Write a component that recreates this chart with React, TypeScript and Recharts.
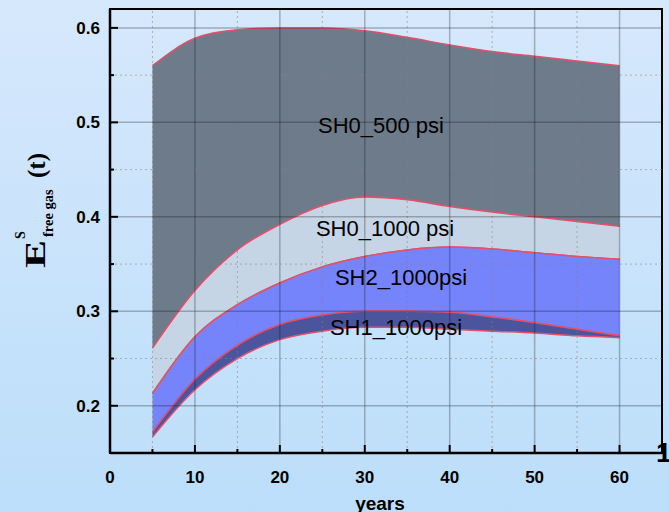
import React from 'react';
import { ComposedChart, Area, XAxis, YAxis, ReferenceLine, ReferenceArea } from 'recharts';

// years on the x axis
const years = [5, 10, 15, 20, 25, 30, 35, 40, 45, 50, 55, 60];

// band boundaries
const sh0_500Top = [0.56, 0.589, 0.598, 0.6, 0.6, 0.597, 0.59, 0.582, 0.575, 0.57, 0.565, 0.56];
const sh0_500Bottom = [0.261, 0.322, 0.365, 0.392, 0.412, 0.421, 0.418, 0.411, 0.405, 0.4, 0.395, 0.39];
const sh2Top = [0.213, 0.273, 0.307, 0.33, 0.347, 0.358, 0.365, 0.368, 0.366, 0.362, 0.358, 0.355];
const sh1Top = [0.172, 0.228, 0.264, 0.286, 0.296, 0.3, 0.3, 0.299, 0.294, 0.288, 0.281, 0.274];
const sh1Bottom = [0.167, 0.217, 0.25, 0.27, 0.279, 0.283, 0.283, 0.281, 0.279, 0.277, 0.274, 0.272];

const xTicks = [0, 5, 10, 15, 20, 25, 30, 35, 40, 45, 50, 55, 60];
const xMajor = [10, 20, 30, 40, 50, 60];
const xMinor = [5, 15, 25, 35, 45, 55];
const yTicks = [0.2, 0.25, 0.3, 0.35, 0.4, 0.45, 0.5, 0.55, 0.6];
const yMajor = [0.2, 0.3, 0.4, 0.5, 0.6];
const yMinor = [0.25, 0.35, 0.45, 0.55];

const data = years.map((year, i) => ({
  year,
  sh0_500: [sh0_500Bottom[i], sh0_500Top[i]],
  sh0_1000: [sh2Top[i], sh0_500Bottom[i]],
  sh2: [sh1Top[i], sh2Top[i]],
  sh1: [sh1Bottom[i], sh1Top[i]],
}));

const W = 669;
const H = 512;
const PLOT_LEFT = 110;
const PLOT_BOTTOM = 453;
const SANS = 'Liberation Sans, Arial, sans-serif';
const SERIF = 'Liberation Serif, Times New Roman, serif';
const RED = '#e2506a';

const XTick = (props: any) => {
  const { x, payload } = props;
  const major = payload.value % 10 === 0;
  return (
    <g>
      <line x1={x} x2={x} y1={PLOT_BOTTOM} y2={PLOT_BOTTOM - (major ? 8 : 4)} stroke="#000" strokeWidth={2} />
      {major && (
        <text x={x} y={483} textAnchor="middle" fontFamily={SANS} fontWeight="bold" fontSize={17} fill="#000">
          {payload.value}
        </text>
      )}
    </g>
  );
};

const YTick = (props: any) => {
  const { y, payload } = props;
  const major = yMajor.some((v) => Math.abs(v - payload.value) < 1e-6);
  return (
    <g>
      <line x1={PLOT_LEFT} x2={PLOT_LEFT + (major ? 8 : 4)} y1={y} y2={y} stroke="#000" strokeWidth={2} />
      {major && (
        <text x={100} y={y + 6} textAnchor="end" fontFamily={SANS} fontWeight="bold" fontSize={17} fill="#000">
          {payload.value.toFixed(1)}
        </text>
      )}
    </g>
  );
};

const App: React.FC = () => {
  return (
    <div
      style={{
        position: 'absolute',
        left: 0,
        top: 0,
        width: W,
        height: H,
        overflow: 'hidden',
        background: 'linear-gradient(#d6e8fc, #bcdefa)',
      }}
    >
      <ComposedChart width={W} height={H} data={data} margin={{ top: 9, right: 7, left: 50, bottom: 0 }}>
        <XAxis
          dataKey="year"
          type="number"
          domain={[0, 65]}
          ticks={xTicks}
          interval={0}
          height={59}
          tickLine={false}
          tick={<XTick />}
          axisLine={{ stroke: '#000', strokeWidth: 2.5 }}
        />
        <YAxis
          type="number"
          domain={[0.15, 0.62]}
          ticks={yTicks}
          interval={0}
          width={60}
          tickLine={false}
          tick={<YTick />}
          axisLine={{ stroke: '#000', strokeWidth: 2.5 }}
        />
        <Area type="monotone" dataKey="sh0_500" fill="#6e7b8b" fillOpacity={1} stroke={RED} strokeWidth={1.5} dot={false} activeDot={false} isAnimationActive={false} />
        <Area type="monotone" dataKey="sh0_1000" fill="#c6d5e6" fillOpacity={1} stroke={RED} strokeWidth={1.5} dot={false} activeDot={false} isAnimationActive={false} />
        <Area type="monotone" dataKey="sh2" fill="#7584fb" fillOpacity={1} stroke={RED} strokeWidth={1.5} dot={false} activeDot={false} isAnimationActive={false} />
        <Area type="monotone" dataKey="sh1" fill="#4a559e" fillOpacity={1} stroke={RED} strokeWidth={1.5} dot={false} activeDot={false} isAnimationActive={false} />
        {xMajor.map((v) => (
          <ReferenceLine key={`xM${v}`} x={v} stroke="#111" strokeOpacity={0.28} strokeWidth={1.5} />
        ))}
        {xMinor.map((v) => (
          <ReferenceLine key={`xm${v}`} x={v} stroke="#8a7f7a" strokeOpacity={0.55} strokeDasharray="2 3" strokeWidth={1} />
        ))}
        {yMajor.map((v) => (
          <ReferenceLine key={`yM${v}`} y={v} stroke="#111" strokeOpacity={0.28} strokeWidth={1.5} />
        ))}
        {yMinor.map((v) => (
          <ReferenceLine key={`ym${v}`} y={v} stroke="#8a7f7a" strokeOpacity={0.55} strokeDasharray="2 3" strokeWidth={1} />
        ))}
        <ReferenceArea x1={0} x2={65} y1={0.15} y2={0.62} fill="none" stroke="#000" strokeWidth={2} ifOverflow="visible" />
      </ComposedChart>
      <svg width={W} height={H} style={{ position: 'absolute', left: 0, top: 0, pointerEvents: 'none' }}>
        <g fontFamily={SANS} fontSize={22} fill="#000" textAnchor="middle">
          <text x={381} y={133}>SH0_500 psi</text>
          <text x={385} y={236}>SH0_1000 psi</text>
          <text x={401} y={285}>SH2_1000psi</text>
          <text x={396} y={335}>SH1_1000psi</text>
        </g>
        <text x={380} y={510} textAnchor="middle" fontFamily={SANS} fontWeight="bold" fontSize={19} fill="#000">
          years
        </text>
        <g transform="translate(45,268) rotate(-90)" fontFamily={SERIF} fontWeight="bold" fill="#000">
          <text x={0} y={0} fontSize={30} textLength={28} lengthAdjust="spacingAndGlyphs">E</text>
          <text x={29} y={-20} fontSize={14}>S</text>
          <text x={31} y={8} fontSize={14.5}>free gas</text>
          <text x={90} y={0} fontSize={25}>(t)</text>
        </g>
        <text x={656} y={462} fontFamily={SANS} fontWeight="bold" fontSize={28} fill="#000">1</text>
      </svg>
    </div>
  );
};

export default App;
